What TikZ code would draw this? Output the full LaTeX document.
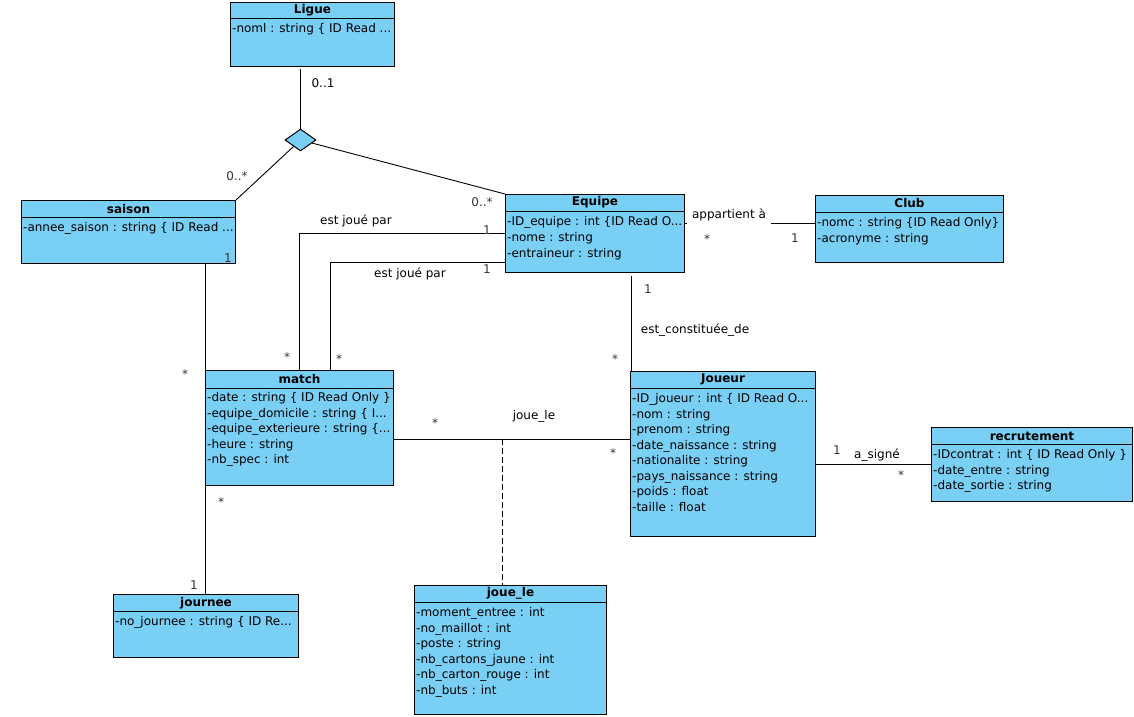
\documentclass[tikz,border=0pt]{standalone}
\usepackage{fontspec}
\setmainfont{DejaVu Sans}
\usetikzlibrary{calc,shapes.geometric}
\definecolor{umlblue}{HTML}{7ACFF5}
\definecolor{multgray}{HTML}{333333}
\newcommand{\trunc}{...}
\tikzset{
    classbox/.style={draw, fill=umlblue, line width=1pt, anchor=north west, inner sep=0pt},
    boxline/.style={line width=1pt},
    classtitle/.style={font=\fontsize{12}{14}\selectfont\bfseries, inner sep=0pt},
    attr/.style={anchor=base west, inner sep=0pt, font=\fontsize{12}{14}\selectfont},
    lab/.style={font=\fontsize{12}{14}\selectfont, inner sep=1pt},
    mult/.style={lab, color=multgray},
    star/.style={mult, yshift=-2.5pt},
    assoc/.style={line width=0.9pt}
}

\begin{document}
\begin{tikzpicture}[x=1pt,y=-1pt, line cap=butt, line join=miter]

\useasboundingbox (0,0) rectangle (1134,716);

% Ligue
\node[classbox, minimum width=164pt, minimum height=64pt] (ligue) at (230,2) {};
\draw[boxline] ([yshift=-16pt]ligue.north west) -- ([yshift=-16pt]ligue.north east);
\node[classtitle] (ligueT) at ([yshift=-8pt]ligue.north) {Ligue};
\foreach \a [count=\i from 0] in {-noml : string \{ ID Read \trunc}
  \node[attr] at ($(ligue.north west)+(2,30.5+15.5*\i)$) {\a};

% saison
\node[classbox, minimum width=214pt, minimum height=63pt] (saison) at (21,200) {};
\draw[boxline] ([yshift=-17pt]saison.north west) -- ([yshift=-17pt]saison.north east);
\node[classtitle] (saisonT) at ([yshift=-9pt]saison.north) {saison};
\foreach \a [count=\i from 0] in {-annee\_saison : string \{ ID Read \trunc}
  \node[attr] at ($(saison.north west)+(2,31.5+15.5*\i)$) {\a};

% Equipe
\node[classbox, minimum width=179pt, minimum height=78pt] (equipe) at (505,194) {};
\draw[boxline] ([yshift=-17pt]equipe.north west) -- ([yshift=-17pt]equipe.north east);
\node[classtitle] (equipeT) at ([yshift=-8.5pt]equipe.north) {Equipe};
\foreach \a [count=\i from 0] in {-ID\_equipe : int \{ID Read O\trunc, -nome : string, -entraineur : string}
  \node[attr] at ($(equipe.north west)+(2,31.5+16*\i)$) {\a};

% Club
\node[classbox, minimum width=188pt, minimum height=67pt] (club) at (815,195) {};
\draw[boxline] ([yshift=-17pt]club.north west) -- ([yshift=-17pt]club.north east);
\node[classtitle] (clubT) at ([yshift=-8.5pt]club.north) {Club};
\foreach \a [count=\i from 0] in {-nomc : string \{ID Read Only\}, -acronyme : string}
  \node[attr] at ($(club.north west)+(2,31.5+16*\i)$) {\a};

% match
\node[classbox, minimum width=188pt, minimum height=115pt] (match) at (205,370) {};
\draw[boxline] ([yshift=-18pt]match.north west) -- ([yshift=-18pt]match.north east);
\node[classtitle] (matchT) at ([yshift=-9pt]match.north) {match};
\foreach \a [count=\i from 0] in {-date : string \{ ID Read Only \}, -equipe\_domicile : string \{ I\trunc, -equipe\_exterieure : string \{\trunc, -heure : string, -nb\_spec : int}
  \node[attr] at ($(match.north west)+(2,31.5+15.5*\i)$) {\a};

% Joueur
\node[classbox, minimum width=185pt, minimum height=165pt] (joueur) at (630,371) {};
\draw[boxline] ([yshift=-17pt]joueur.north west) -- ([yshift=-17pt]joueur.north east);
\node[classtitle] (joueurT) at ([yshift=-8.5pt]joueur.north) {Joueur};
\foreach \a [count=\i from 0] in {-ID\_joueur : int \{ ID Read O\trunc, -nom : string, -prenom : string, -date\_naissance : string, -nationalite : string, -pays\_naissance : string, -poids : float, -taille : float}
  \node[attr] at ($(joueur.north west)+(2,31.5+15.5*\i)$) {\a};

% recrutement
\node[classbox, minimum width=201pt, minimum height=74pt] (recrutement) at (931,427) {};
\draw[boxline] ([yshift=-17pt]recrutement.north west) -- ([yshift=-17pt]recrutement.north east);
\node[classtitle] (recrutementT) at ([yshift=-9pt]recrutement.north) {recrutement};
\foreach \a [count=\i from 0] in {-IDcontrat : int \{ ID Read Only \}, -date\_entre : string, -date\_sortie : string}
  \node[attr] at ($(recrutement.north west)+(2,31.5+15.5*\i)$) {\a};

% journee
\node[classbox, minimum width=185pt, minimum height=63pt] (journee) at (113,594) {};
\draw[boxline] ([yshift=-17pt]journee.north west) -- ([yshift=-17pt]journee.north east);
\node[classtitle] (journeeT) at ([yshift=-9pt]journee.north) {journee};
\foreach \a [count=\i from 0] in {-no\_journee : string \{ ID Re\trunc}
  \node[attr] at ($(journee.north west)+(2,31.5+15.5*\i)$) {\a};

% joue_le
\node[classbox, minimum width=192pt, minimum height=129pt] (jouele) at (414,585) {};
\draw[boxline] ([yshift=-17pt]jouele.north west) -- ([yshift=-17pt]jouele.north east);
\node[classtitle] (joueleT) at ([yshift=-8.5pt]jouele.north) {joue\_le};
\foreach \a [count=\i from 0] in {-moment\_entree : int, -no\_maillot : int, -poste : string, -nb\_cartons\_jaune : int, -nb\_carton\_rouge : int, -nb\_buts : int}
  \node[attr] at ($(jouele.north west)+(2,31.5+15.5*\i)$) {\a};

% n-ary association
\node[diamond, draw, fill=umlblue, line width=1pt, inner sep=0pt,
      minimum width=31pt, minimum height=22pt] (ternary) at (300.5,140) {};
\draw[assoc, shorten <=2pt] (ternary.north |- ligue.south) -- (ternary.north);
\draw[assoc] (ternary) -- (saison.north east);
\draw[assoc] (ternary) -- (equipe.north west);

% associations
\draw[assoc] ([yshift=5.5pt]club.west) -- ([yshift=5.5pt]club.west -| equipe.east);
\draw[assoc] (equipe.west) -| (match.north);
\draw[assoc] ([yshift=11pt]equipe.south west) -| ([xshift=31pt]match.north);
\draw[assoc] (saison.south -| match.north west) -- (match.north west);
\draw[assoc] (match.south west) -- (match.south west |- journee.north);
\draw[assoc] ([yshift=-11.5pt]match.east) coordinate (jlstart) -- (jlstart -| joueur.west);
\coordinate (jlmid) at (502,439);
\draw[assoc, dash pattern=on 6pt off 3pt] (jlmid) -- (jlmid |- jouele.north);
\draw[assoc, shorten >=3pt] ([xshift=1pt]joueur.north west) -- ([xshift=1pt]joueur.north west |- equipe.south);
\draw[assoc] (recrutement.west) -- (recrutement.west -| joueur.east);

% labels
\node[lab] (lTern) at (323,83) {0..1};
\node[mult] (mSai) at (237,176) {0..*};
\node[mult] (mEqT) at (482,202) {0..*};
\node[lab] (lJoue1) at (356,221) {est joué par};
\node[mult] (mEq1) at (487,230) {1};
\node[lab] (lJoue2) at (410,274) {est joué par};
\node[mult] (mEq2) at (487,269) {1};
\node[star] (mMa1) at (287,355) {*};
\node[star] (mMa2) at (339,357) {*};
\node[mult] (mSai1) at (228,258) {1};
\node[star] (mMaS) at (185,372) {*};
\node[lab, fill=white, minimum width=84pt, minimum height=20pt] (lApp) at (729,215) {appartient à};
\node[star] (mApp1) at (707,237) {*};
\node[mult] (mApp2) at (795,238) {1};
\node[mult] (mCon1) at (648,289) {1};
\node[lab] (lCon) at (695,330) {est\_constituée\_de};
\node[star] (mCon2) at (615,357) {*};
\node[star] (mJl1) at (435,421) {*};
\node[lab] (lJl) at (534,416) {joue\_le};
\node[star] (mJl2) at (613,451) {*};
\node[mult] (mSig1) at (837,450) {1};
\node[lab] (lSig) at (877,455) {a\_signé};
\node[star] (mSig2) at (901,473) {*};
\node[star] (mJo1) at (221,500) {*};
\node[mult] (mJo2) at (194,585) {1};

\end{tikzpicture}
\end{document}
